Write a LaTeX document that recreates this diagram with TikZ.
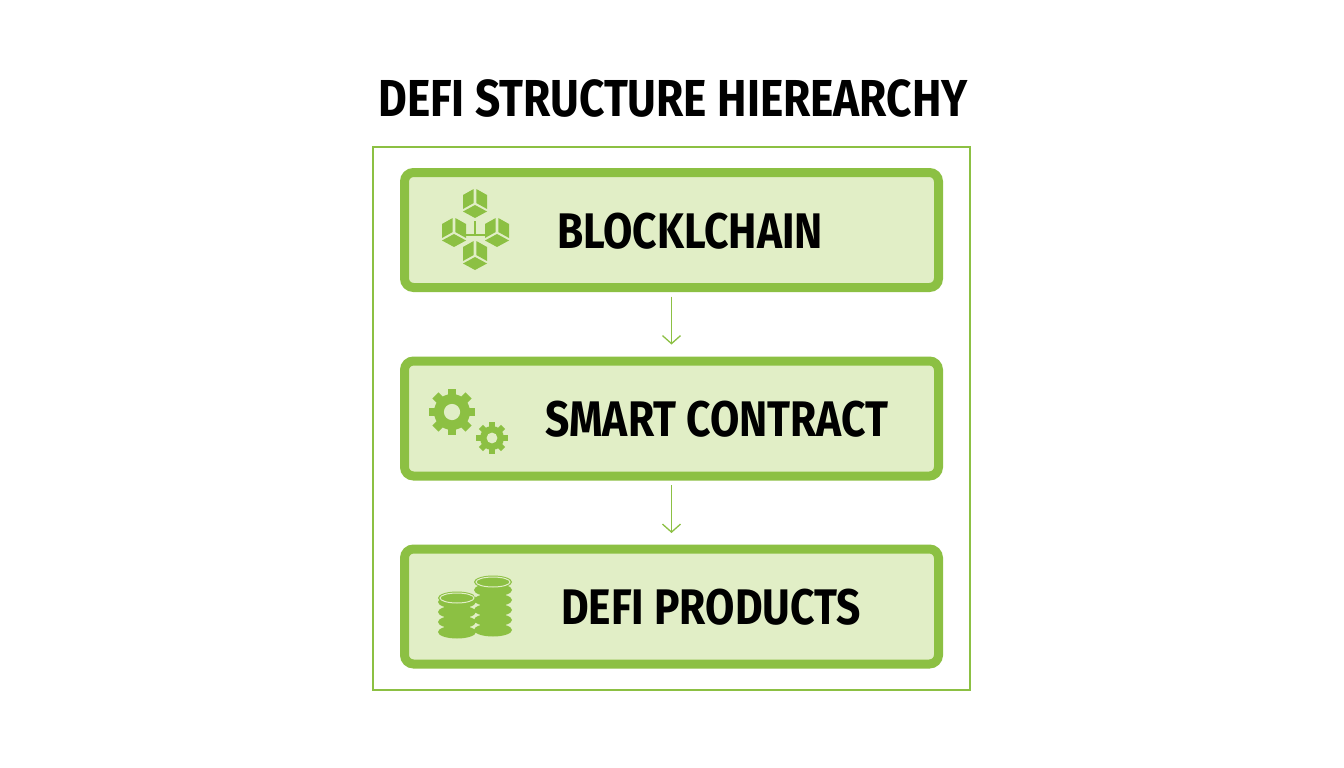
\documentclass[tikz,border=0pt]{standalone}
\usepackage{fontspec}
\setmainfont{Fira Sans}
\usetikzlibrary{arrows.meta}
\definecolor{gborder}{HTML}{8CC043}
\definecolor{gfill}{HTML}{E1EEC6}
\definecolor{gicon}{HTML}{8CC043}
\newfontfamily\cond[FakeStretch=0.85]{Fira Sans Bold}
\tikzset{
 layer/.style={draw=gborder,line width=9pt,fill=gfill,rounded corners=9pt,minimum width=534pt,minimum height=115pt,inner sep=0pt},
 lbl/.style={font=\cond\fontsize{50}{50}\selectfont,text=black},
 flow/.style={draw=gborder,line width=1.3pt,-{Straight Barb[length=8pt,width=18pt,line width=1.3pt]}},
 pics/cube/.style={code={
   \fill[gicon] (0,0)--(12,6.5)--(0,13)--(-12,6.5)--cycle;
   \fill[gicon] (-12,4)--(-1.3,-2)--(-1.3,-16)--(-12,-10)--cycle;
   \fill[gicon] (12,4)--(1.3,-2)--(1.3,-16)--(12,-10)--cycle;
 }},
 pics/gear/.style={code={
   \foreach \a in {0,45,...,315}{\fill[gicon,rotate=\a] (-#1*0.24,0) rectangle (#1*0.24,#1*1.3);}
   \fill[gicon] (0,0) circle (#1);
   \fill[gfill] (0,0) circle (#1*0.45);
 }}
}
\begin{document}
\begin{tikzpicture}[x=1pt,y=-1pt]
\useasboundingbox (0,0) rectangle (1344,768);
\fill[white] (0,0) rectangle (1344,768);
\node[font=\cond\fontsize{52}{52}\selectfont] (title) at (673,98) {DEFI STRUCTURE HIEREARCHY};
\node[draw=gborder,line width=1.3pt,minimum width=597pt,minimum height=543pt,inner sep=0pt] (frame) at (671.5,418.5) {};
\node[layer] (b1) at (671.5,230) {};
\node[layer] (b2) at (671.5,418.5) {};
\node[layer] (b3) at (671.5,606.5) {};
\node[lbl] (t1) at (690,231) {BLOCKLCHAIN};
\node[lbl] (t2) at (717,419) {SMART CONTRACT};
\node[lbl] (t3) at (711,607) {DEFI PRODUCTS};
\draw[flow] (b1.south) ++(0,4.5) coordinate (a1) -- ++(0,48) coordinate (a1e);
\draw[flow] (b2.south) ++(0,4.5) coordinate (a2) -- ++(0,48) coordinate (a2e);
% blockchain icon
\pic at (475,205) {cube};
\pic at (454,234) {cube};
\pic at (497,234) {cube};
\pic at (475,257) {cube};
\draw[gicon,line width=2.2pt] (475,221)--(475,235) (465,235)--(485,235);
% gears
\pic at (452,412) {gear=18};
\pic at (492,438) {gear=12};
% coins
\foreach \y in {632,622,612,602}{\fill[gicon] (457,\y) ellipse (19 and 6.5); \draw[gfill,line width=1pt] (438,\y-3.5) arc(180:360:19 and 6.5);}
\fill[gicon] (457,598) ellipse (19 and 6.5);
\draw[gfill,line width=1pt] (457,598) ellipse (17 and 5);
\foreach \y in {630,620,610,600,590}{\fill[gicon] (493,\y) ellipse (19 and 6.5); \draw[gfill,line width=1pt] (474,\y-3.5) arc(180:360:19 and 6.5);}
\fill[gicon] (493,582) ellipse (19 and 6.5);
\draw[gfill,line width=1pt] (493,582) ellipse (17 and 5);
\end{tikzpicture}
\end{document}
